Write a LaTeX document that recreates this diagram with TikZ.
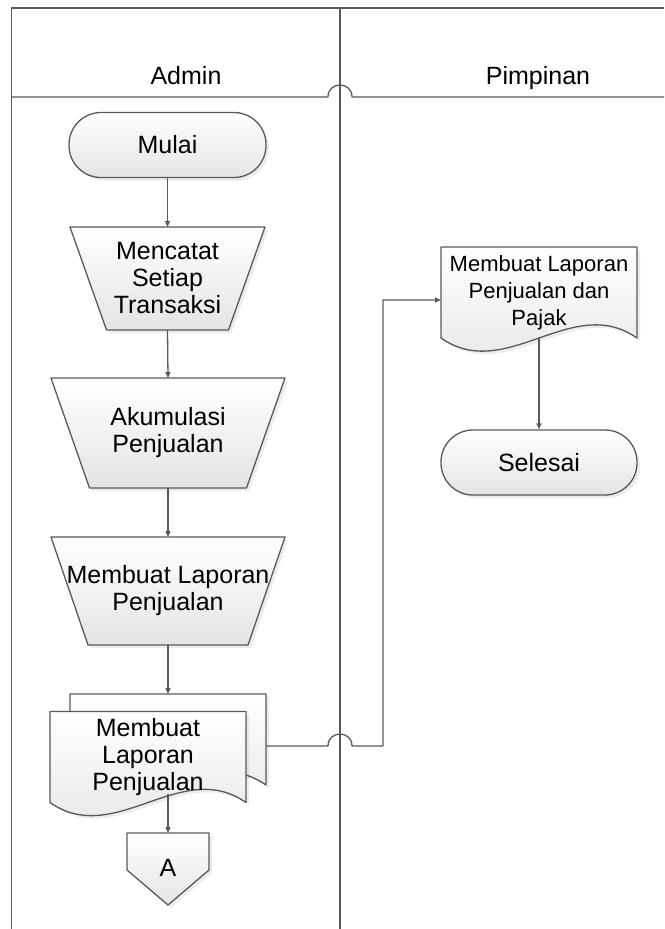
\documentclass[tikz,border=0pt]{standalone}
\usepackage{fontspec}
\setmainfont{Liberation Sans}
\usetikzlibrary{arrows.meta,calc,shadows}
\definecolor{linegray}{HTML}{595959}
\definecolor{fillgray}{HTML}{E4E4E4}
% trapezium: name, x, y, top half width, bottom half width, half height, text
\newcommand \mytrap[7]
{
\draw[shapebox] (#2-#4,#3-#6)--(#2+#4,#3-#6)--(#2+#5,#3+#6)--(#2-#5,#3+#6)--cycle;
\node[boxtext] (#1) at (#2,#3) {#7};
\coordinate (#1-n) at (#2,#3-#6);
\coordinate (#1-s) at (#2,#3+#6);
}
% document: name, x, y, text style, text
\newcommand \mydoc[5]
{
\draw[shapebox] (#2-98,#3-45.5)--(#2+98,#3-45.5)--(#2+98,#3+45.5)
  .. controls (#2+33,#3) and (#2-33,#3+91) .. (#2-98,#3+45.5)--cycle;
\node[#4] (#1) at (#2,#3) {#5};
\coordinate (#1-n) at (#2,#3-45.5);
\coordinate (#1-s) at (#2,#3+45.5);
}
\begin{document}
\begin{tikzpicture}[x=1pt,y=-1pt,line join=round,
  lane/.style={draw=linegray,line width=1.3pt},
  shapebox/.style={draw=linegray,line width=1.3pt,top color=white,bottom color=fillgray,
    drop shadow={shadow xshift=3pt,shadow yshift=-3pt,opacity=0.15}},
  boxtext/.style={align=center,inner sep=0pt,font=\fontsize{25}{27}\selectfont},
  smalltext/.style={align=center,inner sep=0pt,font=\fontsize{22}{27}\selectfont},
  flow/.style={draw=linegray,line width=1.3pt,-{Triangle[length=6pt,width=5pt]}},
  terminal/.style={shapebox,boxtext,rounded corners=32pt,minimum width=197pt,minimum height=65pt}]
\useasboundingbox (0,0) rectangle (664,929);
% swimlanes
\draw[lane] (11.5,929)--(11.5,8)--(664,8);
\draw[lane] (340,8)--(340,929);
\draw[lane] (11.5,97)--(328,97) .. controls (328,81) and (352,81) .. (352,97)--(664,97);
\node[boxtext,anchor=base] (admin) at (186,84) {Admin};
\node[boxtext,anchor=base] (pimpinan) at (538,84) {Pimpinan};
% admin
\node[terminal] (mulai) at (167.5,145) {Mulai};
\mytrap{mencatat}{167.5}{278.5}{97.5}{61}{51.5}{Mencatat\\Setiap\\Transaksi}
\mytrap{akumulasi}{168}{433}{117}{78.5}{55}{Akumulasi\\Penjualan}
\mytrap{laporan}{168}{591}{117}{80}{54}{Membuat Laporan\\Penjualan}
\mydoc{laporanbak}{168}{739.5}{boxtext}{}
\mydoc{laporandoc}{148}{757}{boxtext}{Membuat\\Laporan\\Penjualan}
\coordinate (laporanbak-e) at (266,746);
\coordinate (laporandoc-out) at (168,794);
\draw[shapebox] (127,833)--(209,833)--(209,870)--(168,905)--(127,870)--cycle;
\node[boxtext] (konektor) at (168,868) {A};
\coordinate (konektor-n) at (168,833);
% pimpinan
\mydoc{pajak}{539}{292.5}{smalltext}{Membuat Laporan\\Penjualan dan\\Pajak}
\coordinate (pajak-w) at (441,300);
\node[terminal,minimum width=196pt] (selesai) at (539,462.5) {Selesai};
% connectors
\draw[flow] (mulai.south)--(mencatat-n);
\draw[flow] (mencatat-s)--(akumulasi-n);
\draw[flow] (akumulasi-s)--(laporan-n);
\draw[flow] (laporan-s)--(laporanbak-n);
\draw[flow] (laporandoc-out)--(konektor-n);
\draw[flow] (laporanbak-e)--(328,746) .. controls (328,730) and (352,730) .. (352,746)--(383,746)|-(pajak-w);
\draw[flow] (pajak-s)--(selesai.north);
\end{tikzpicture}
\end{document}
